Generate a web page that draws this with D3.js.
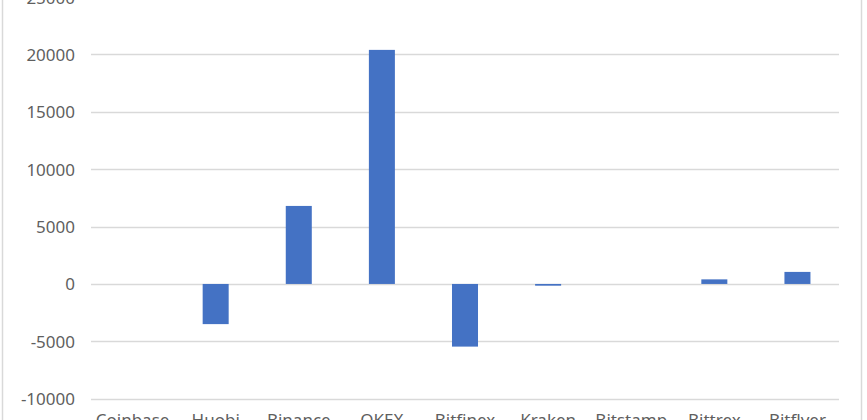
<!DOCTYPE html>
<html>
<head>
<meta charset="utf-8">
<script src="https://cdn.jsdelivr.net/npm/d3@7"></script>
<style>
  html, body { margin: 0; padding: 0; background: #fff; overflow: hidden; }
  svg { display: block; font-family: "Noto Sans", "Liberation Sans", sans-serif; }
</style>
</head>
<body>
<svg id="chart" width="867" height="420"></svg>
<script>
// Exchanges shown along the x axis
const exchanges = ["Coinbase", "Huobi", "Binance", "OKEX", "Bitfinex", "Kraken", "Bitstamp", "Bittrex", "Bitflyer"];
// Net flow per exchange
const flows = [0, -3500, 6800, 20400, -5460, -150, 0, 400, 1050];
// Value axis ticks
const yTicks = [-10000, -5000, 0, 5000, 10000, 15000, 20000, 25000];

const W = 867, H = 420;
const plot = { left: 91, right: 839, top: -2.9, bottom: 398.7 };

const svg = d3.select("#chart");

// Outer chart frame
svg.append("rect")
  .attr("x", 2.5).attr("y", -10)
  .attr("width", 859).attr("height", H + 30)
  .attr("fill", "none")
  .attr("stroke", "#d9d9d9")
  .attr("stroke-width", 1.5);

const x = d3.scaleBand()
  .domain(exchanges)
  .range([plot.left, plot.right])
  .paddingInner(0.687)
  .paddingOuter(0.3435);

const y = d3.scaleLinear()
  .domain([-10000, 25000])
  .range([plot.bottom, plot.top]);

// Horizontal gridlines
svg.append("g")
  .selectAll("line")
  .data(yTicks)
  .join("line")
  .attr("x1", plot.left).attr("x2", plot.right)
  .attr("y1", d => Math.round(y(d)) + 0.5)
  .attr("y2", d => Math.round(y(d)) + 0.5)
  .attr("stroke", "#d9d9d9")
  .attr("stroke-width", 1.5);

// Value axis labels (plain hyphen for negatives)
const yAxis = d3.axisLeft(y).tickValues(yTicks).tickSize(0).tickPadding(0).tickFormat(d => String(d));
const gy = svg.append("g")
  .attr("transform", `translate(75,0)`)
  .call(yAxis);
gy.select(".domain").remove();
gy.selectAll("text")
  .attr("font-size", 17)
  .attr("font-family", "'Noto Sans', 'Liberation Sans', sans-serif")
  .attr("fill", "#5f5f5f")
  .attr("dy", "0.35em");

// Bars
svg.append("g")
  .selectAll("rect")
  .data(exchanges.map((e, i) => ({ e, v: flows[i] })))
  .join("rect")
  .attr("x", d => x(d.e))
  .attr("width", x.bandwidth())
  .attr("y", d => y(Math.max(0, d.v)))
  .attr("height", d => Math.abs(y(d.v) - y(0)))
  .attr("fill", "#4472c4");

// Category labels
const xAxis = d3.axisBottom(x).tickSize(0).tickPadding(0);
const gx = svg.append("g")
  .attr("transform", `translate(0,426)`)
  .call(xAxis);
gx.select(".domain").remove();
gx.selectAll("text")
  .attr("font-size", 17)
  .attr("font-family", "'Noto Sans', 'Liberation Sans', sans-serif")
  .attr("fill", "#5f5f5f")
  .attr("dy", 0)
  .attr("y", 0);
</script>
</body>
</html>
